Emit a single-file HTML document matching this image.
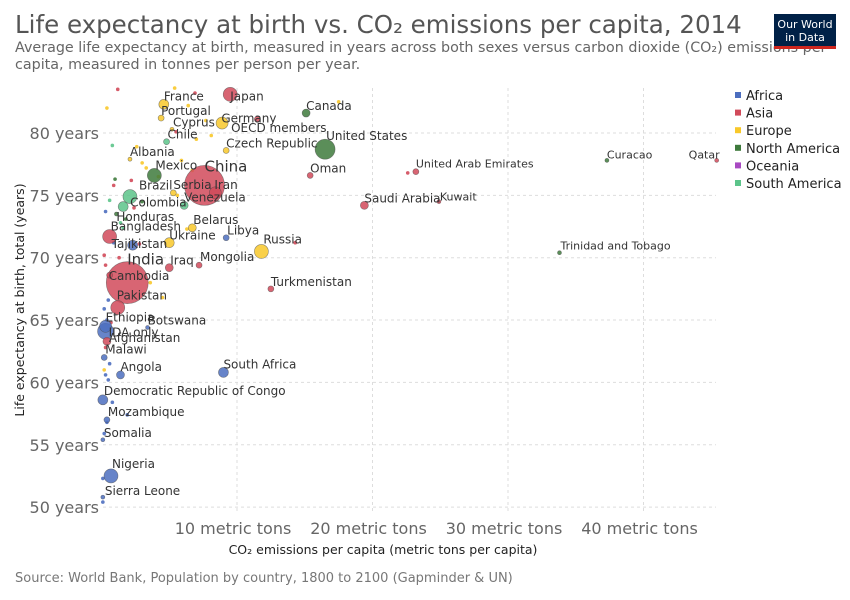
<!DOCTYPE html>
<html><head><meta charset="utf-8">
<style>
body{margin:0;background:#fff;font-family:"DejaVu Sans","Liberation Sans",sans-serif;}
#wrap{position:relative;width:850px;height:600px;overflow:hidden;}
svg text{font-family:"DejaVu Sans","Liberation Sans",sans-serif;}
</style></head>
<body>
<div id="wrap">
<svg id="chart" width="850" height="600">
<text x="15" y="33" font-size="24.5" fill="#555">Life expectancy at birth vs. CO₂ emissions per capita, 2014</text>
<text x="15" y="52" font-size="14.3" fill="#666">Average life expectancy at birth, measured in years across both sexes versus carbon dioxide (CO₂) emissions per</text>
<text x="15" y="69" font-size="14.3" fill="#666">capita, measured in tonnes per person per year.</text>
<g>
<rect x="774" y="14" width="62" height="35" fill="#002147"/>
<rect x="774" y="46" width="62" height="3" fill="#ce261e"/>
<text x="805" y="28" font-size="11" fill="#fff" text-anchor="middle">Our World</text>
<text x="805" y="41" font-size="11" fill="#fff" text-anchor="middle">in Data</text>
</g>
<g id="grid"></g>
<g id="axes"></g>
<g id="marks"></g>
<g id="labels"></g>
<g id="legend"></g>
<text x="24" y="300" font-size="12.5" fill="#222" transform="rotate(-90 24 300)" text-anchor="middle">Life expectancy at birth, total (years)</text>
<text x="383" y="554" font-size="12.5" fill="#222" text-anchor="middle">CO₂ emissions per capita (metric tons per capita)</text>
<text x="15" y="582" font-size="13" fill="#777">Source: World Bank, Population by country, 1800 to 2100 (Gapminder &amp; UN)</text>
</svg>
</div>
<script>
const regions=["Africa","Asia","Europe","North America","Oceania","South America"];
const regionColors=["#4c6ebf","#d14a5a","#f8c82a","#3e7a3c","#a849c2","#5cc48a"];
const xTicks=[10,20,30,40];
const yTicks=[50,55,60,65,70,75,80];
const names=["China","India","Japan","United States","Russia","Canada","France","Germany","OECD members","Portugal","Cyprus","Chile","Czech Republic","Albania","Mexico","Iran","Brazil","Serbia","Colombia","Venezuela","Honduras","Belarus","Bangladesh","Libya","Ukraine","Tajikistan","Iraq","Mongolia","Cambodia","Turkmenistan","Pakistan","Ethiopia","Botswana","IDA only","Afghanistan","Malawi","South Africa","Angola","Democratic Republic of Congo","Mozambique","Somalia","Nigeria","Sierra Leone","Curacao","Qatar","United Arab Emirates","Oman","Saudi Arabia","Kuwait","Trinidad and Tobago"];
const co2=[7.6,1.9,9.5,16.5,11.8,15.1,4.6,11.5,8.9,4.4,5.2,4.8,9.2,2.1,3.9,8.4,2.1,5.3,1.6,6.1,1.1,6.7,0.6,9.2,5.0,2.3,5.0,7.2,0.6,12.5,1.2,0.3,3.4,0.3,0.4,0.2,9.0,1.4,0.1,0.4,0.1,0.7,0.1,37.3,45.4,23.2,15.4,19.4,24.9,33.8];
const life=[75.8,68.0,83.1,78.7,70.5,81.6,82.3,81.1,80.8,81.2,80.3,79.3,78.6,77.9,76.6,75.2,74.9,75.2,74.1,74.2,73.5,72.4,71.7,71.6,71.2,71.0,69.2,69.4,68.6,67.5,66.0,64.5,64.4,64.1,63.3,62.0,60.8,60.6,58.6,57.0,55.4,52.5,50.8,77.8,77.8,76.9,76.6,74.2,74.5,70.4];
const sizes=[20,21,7,10,7,4,5,3,6,3,2,3,3,2,7,6,7,3,5,4,2,4,7,3,5,5,4,3,3,3,7,6,2,8,4,3,5,4,5,3,2,7,2,2,2,3,3,4,2,2];
const regionIdx=[1,1,1,3,2,3,2,1,2,2,2,5,2,2,3,1,5,2,5,5,3,2,1,0,2,0,1,1,1,1,1,0,0,0,1,0,0,0,0,0,0,0,0,3,1,1,1,1,1,3];
const labelDx=[0,0,0,1,2,0,0,-36,9,0,1,1,0,0,1,-1,9,0,7,0,0,1,1,1,0,-21,1,1,-1,0,-1,0,0,3,2,1,0,0,1,1,1,1,2,0,-28,0,0,0,1,1];
const labelDy=[-14,-18,6,-9,-8,-3,-4,3,9,-3,-3,-3,-3,-3,-6,-4,-7,-4,0,-4,7,-4,-6,-3,-3,3,-3,-4,5,-3,-8,-5,-3,5,1,-4,-4,-4,-5,-4,-3,-8,-2,-2,-2,-4,-3,-3,-1,-3];
const labelSize=[15,15,12,12,12,12,12,12,12,12,12,12,12,12,12,12,12,12,12,12,12,12,12,12,12,12,12,12,12,12,12,12,12,12,12,12,12,12,12,12,12,12,12,11,11,11,12,12,11,11];
const otherCo2=[1.2,0.4,0.8,1.0,2.6,3.0,3.3,4.2,5.9,6.7,6.9,7.7,8.1,5.5,2.4,1.8,1.4,0.9,0.6,0.3,0.2,0.3,0.5,0.7,0.2,0.4,0.3,0.6,0.2,0.5,0.8,1.9,3.6,4.5,6.3,2.8,1.6,1.3,0.9,0.3,17.5,14.3,22.6,5.4,6.4,7.0,3.0,2.2,5.6,0.1,0.1,0.2,0.4];
const otherLife=[83.5,82.0,79.0,76.3,78.9,77.6,77.2,76.5,77.8,77.0,83.2,81.0,79.8,80.1,74.0,73.1,72.8,75.8,74.6,73.7,70.2,69.4,66.6,64.8,65.9,65.0,62.8,61.5,61.0,60.2,58.4,57.4,68.0,66.8,72.3,71.1,72.4,70.0,71.2,60.6,82.5,71.2,76.8,83.6,82.2,79.5,74.5,76.2,75.0,52.3,50.4,55.9,56.8];
const otherRegion=[1,2,5,3,2,2,2,2,2,2,1,2,2,1,1,3,5,1,5,0,1,1,0,1,0,0,1,0,2,0,0,0,2,2,2,1,5,1,0,0,2,1,1,2,2,2,3,1,2,0,0,0,0];

const NS="http://www.w3.org/2000/svg";
const L=103,R=716,T=88,B=514;
function xs(v){return 101.5+13.55*v;}
function ys(v){return 133+(80-v)*12.47;}
function mk(tag,attrs,parent){const e=document.createElementNS(NS,tag);for(const k in attrs)e.setAttribute(k,attrs[k]);parent.appendChild(e);return e;}
const grid=document.getElementById('grid'),axes=document.getElementById('axes'),marks=document.getElementById('marks'),labels=document.getElementById('labels'),legend=document.getElementById('legend');
yTicks.forEach(t=>{
 const l=mk('line',{x1:L,x2:R,y1:ys(t),y2:ys(t),stroke:'#ddd','stroke-dasharray':'3,3'},grid);
 
 
 const tx=mk('text',{x:99,y:ys(t)+6,'font-size':16,fill:'#666','text-anchor':'end'},axes);
 tx.textContent=t+' years';
 
 
});
xTicks.forEach(t=>{
 const l=mk('line',{x1:xs(t),x2:xs(t),y1:T,y2:B,stroke:'#ddd','stroke-dasharray':'3,3'},grid);
 
 
 const tx=mk('text',{x:xs(t)-4,y:534,'font-size':16,fill:'#666','text-anchor':'middle'},axes);
 tx.textContent=t+' metric tons';
 
 
});
otherCo2.forEach((v,i)=>{
 const c=mk('circle',{cx:xs(v),cy:ys(otherLife[i]),r:1.8,fill:regionColors[otherRegion[i]],'fill-opacity':0.9},marks);
 
 
});
const order=names.map((n,i)=>i).sort((a,b)=>sizes[b]-sizes[a]);
order.forEach(i=>{
 const c=mk('circle',{cx:xs(co2[i]),cy:ys(life[i]),r:sizes[i],fill:regionColors[regionIdx[i]],'fill-opacity':0.85,stroke:'#444','stroke-opacity':0.6,'stroke-width':0.6},marks);
 
 
});
names.forEach((n,i)=>{
 const t=mk('text',{x:xs(co2[i])+labelDx[i],y:ys(life[i])+labelDy[i],'font-size':labelSize[i],fill:'#333'},labels);
 t.textContent=n;
 
 
});
regions.forEach((r,i)=>{
 const y=95+i*17.6;
 const s=mk('rect',{x:735,y:y-3,width:6,height:6,fill:regionColors[i]},legend);
 
 
 const t=mk('text',{x:746,y:y+5,'font-size':13,fill:'#222'},legend);
 t.textContent=r;
 
 
});
</script>
</body></html>
